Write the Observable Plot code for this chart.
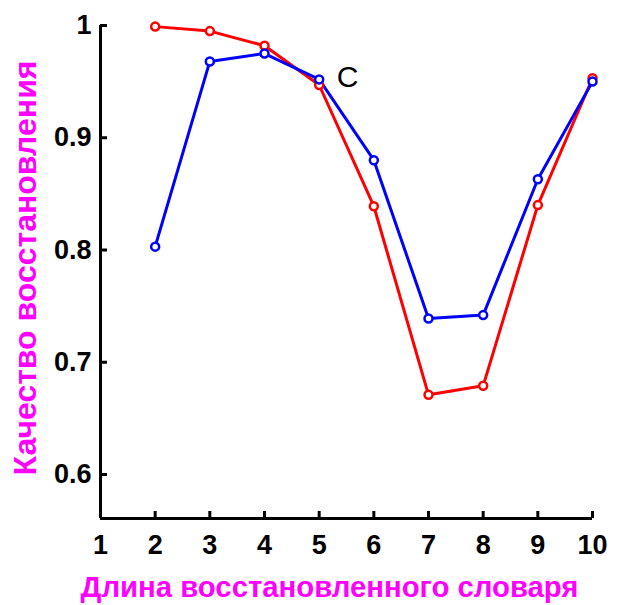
<!DOCTYPE html>
<html>
<head>
<meta charset="utf-8">
<script src="https://cdn.jsdelivr.net/npm/d3@7"></script>
<script src="https://cdn.jsdelivr.net/npm/@observablehq/plot@0.6"></script>
<style>
  html, body { margin: 0; padding: 0; background: #fff; }
  svg text { font-family: "Liberation Sans", Arial, sans-serif; }
</style>
</head>
<body>
<div id="chart"></div>
<script>
// Dictionary length (x) and reconstruction quality for two series
const dictLength = [2, 3, 4, 5, 6, 7, 8, 9, 10];
const redQuality = [0.999, 0.995, 0.982, 0.947, 0.839, 0.671, 0.679, 0.840, 0.953];
const blueQuality = [0.803, 0.968, 0.975, 0.952, 0.880, 0.739, 0.742, 0.863, 0.950];

const xTicks = [1, 2, 3, 4, 5, 6, 7, 8, 9, 10];
const yTicks = [0.6, 0.7, 0.8, 0.9, 1];
const yDomain = [0.5608, 1];

const xLabel = "Длина восстановленного словаря";
const yLabel = "Качество восстановления";
const annotation = [{x: 5.52, y: 0.954, text: "C"}];

const red = dictLength.map((x, i) => ({x, y: redQuality[i]}));
const blue = dictLength.map((x, i) => ({x, y: blueQuality[i]}));

const narrow = "'Liberation Sans Narrow', 'Arial Narrow', 'DejaVu Sans Condensed', sans-serif";

const chart = Plot.plot({
  width: 619,
  height: 605,
  marginLeft: 100,
  marginRight: 27,
  marginTop: 25,
  marginBottom: 87,
  x: {domain: [1, 10]},
  y: {domain: yDomain},
  style: {background: "white", color: "black"},
  marks: [
    // axis lines
    Plot.ruleX([1], {y1: yDomain[0], y2: yDomain[1], stroke: "black", strokeWidth: 3}),
    Plot.ruleY([yDomain[0]], {x1: 1, x2: 10, stroke: "black", strokeWidth: 3}),
    // inward ticks
    Plot.axisX({ticks: xTicks.slice(1), tickSize: -7, tickFormat: () => "", strokeWidth: 3, label: null}),
    Plot.axisY({ticks: yTicks, tickSize: -7, tickFormat: () => "", strokeWidth: 3, label: null}),
    // tick labels
    Plot.axisX({ticks: xTicks, tickSize: 0, tickPadding: 16, fontSize: 27, fontWeight: "bold",
      fontFamily: narrow, label: null}),
    Plot.axisY({ticks: yTicks, tickSize: 0, tickPadding: 9, fontSize: 27, fontWeight: "bold",
      fontFamily: narrow, label: null,
      tickFormat: d => (d === 1 ? "1" : d3.format(".1f")(d))}),
    // axis titles
    Plot.text([xLabel], {frameAnchor: "bottom", dy: 78, dx: -17, fill: "#ff00ff", fontSize: 29.3, fontWeight: "bold"}),
    Plot.text([yLabel], {frameAnchor: "left", textAnchor: "middle", rotate: -90, dx: -75, dy: -4,
      fill: "#ff00ff", fontSize: 32, fontWeight: "bold"}),
    // series
    Plot.line(red, {x: "x", y: "y", stroke: "#ff0000", strokeWidth: 3}),
    Plot.line(blue, {x: "x", y: "y", stroke: "#0000ff", strokeWidth: 3}),
    Plot.dot(red, {x: "x", y: "y", r: 4, stroke: "#ff0000", strokeWidth: 2.5, fill: "white"}),
    Plot.dot(blue, {x: "x", y: "y", r: 4, stroke: "#0000ff", strokeWidth: 2.5, fill: "white"}),
    Plot.text(annotation, {x: "x", y: "y", text: "text", fontSize: 30, fontFamily: narrow, fill: "black"})
  ]
});

document.getElementById("chart").appendChild(chart);
</script>
</body>
</html>
